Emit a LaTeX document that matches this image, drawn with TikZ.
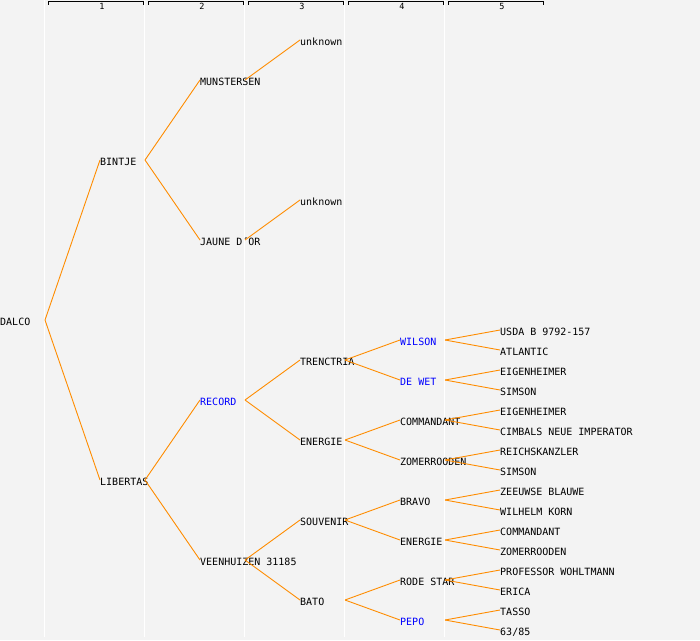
\documentclass[tikz,border=0pt]{standalone}
\usepackage{fontspec}
\usepackage{xcolor}
\newfontfamily\pedfont{DejaVu Sans Mono}
\definecolor{pedorange}{RGB}{255,140,0}
\definecolor{pedblue}{RGB}{0,0,255}
\definecolor{pedback}{RGB}{243,243,243}

\begin{document}
\begin{tikzpicture}[x=1pt,y=-1pt]
    % Define styles
    \tikzstyle{plant} = [anchor=west, inner sep=0pt, text height=11pt, text depth=0pt, font=\pedfont\fontsize{10}{10}\selectfont, text=black]
    \tikzstyle{known} = [plant, text=pedblue]
    \tikzstyle{link} = [draw=pedorange, line width=0.9pt]
    \tikzstyle{gridline} = [draw=white, line width=1.5pt]
    \tikzstyle{bracket} = [draw=black, line width=1pt]
    \tikzstyle{colnum} = [inner sep=0pt, font=\pedfont\fontsize{8.5}{8.5}\selectfont]

    % Background
    \fill [pedback] (0,0) rectangle (700,640);
    \useasboundingbox (0,0) rectangle (700,640);

    % Columns
    \draw [gridline] (44.5,0) -- (44.5,637);
    \draw [gridline] (144.5,0) -- (144.5,637);
    \draw [gridline] (244.5,0) -- (244.5,637);
    \draw [gridline] (344.5,0) -- (344.5,637);
    \draw [gridline] (444.5,0) -- (444.5,637);
    \draw [bracket] (48,4.5) -- (48,1.5) -- (143,1.5) -- (143,4.5);
    \draw [bracket] (148,4.5) -- (148,1.5) -- (243,1.5) -- (243,4.5);
    \draw [bracket] (248,4.5) -- (248,1.5) -- (343,1.5) -- (343,4.5);
    \draw [bracket] (348,4.5) -- (348,1.5) -- (443,1.5) -- (443,4.5);
    \draw [bracket] (448,4.5) -- (448,1.5) -- (543,1.5) -- (543,4.5);
    \node (col1) [colnum] at (102,6.5) {1};
    \node (col2) [colnum] at (202,6.5) {2};
    \node (col3) [colnum] at (302,6.5) {3};
    \node (col4) [colnum] at (402,6.5) {4};
    \node (col5) [colnum] at (502,6.5) {5};

    % Generation 1
    \node (dalco) [plant] at (0,320) {DALCO};

    % Generation 2
    \node (bintje) [plant] at (100,160) {BINTJE};
    \node (libertas) [plant] at (100,480) {LIBERTAS};

    % Generation 3
    \node (munstersen) [plant] at (200,80) {MUNSTERSEN};
    \node (jaune) [plant] at (200,240) {JAUNE D´OR};
    \node (record) [known] at (200,400) {RECORD};
    \node (veenhuizen) [plant] at (200,560) {VEENHUIZEN 31185};

    % Generation 4
    \node (unknownA) [plant] at (300,40) {unknown};
    \node (unknownB) [plant] at (300,200) {unknown};
    \node (trenctria) [plant] at (300,360) {TRENCTRIA};
    \node (energieA) [plant] at (300,440) {ENERGIE};
    \node (souvenir) [plant] at (300,520) {SOUVENIR};
    \node (bato) [plant] at (300,600) {BATO};

    % Generation 5
    \node (wilson) [known] at (400,340) {WILSON};
    \node (dewet) [known] at (400,380) {DE WET};
    \node (commandantA) [plant] at (400,420) {COMMANDANT};
    \node (zomerroodenA) [plant] at (400,460) {ZOMERROODEN};
    \node (bravo) [plant] at (400,500) {BRAVO};
    \node (energieB) [plant] at (400,540) {ENERGIE};
    \node (rodestar) [plant] at (400,580) {RODE STAR};
    \node (pepo) [known] at (400,620) {PEPO};

    % Generation 6
    \node (usda) [plant] at (500,330) {USDA B 9792-157};
    \node (atlantic) [plant] at (500,350) {ATLANTIC};
    \node (eigenheimerA) [plant] at (500,370) {EIGENHEIMER};
    \node (simsonA) [plant] at (500,390) {SIMSON};
    \node (eigenheimerB) [plant] at (500,410) {EIGENHEIMER};
    \node (cimbals) [plant] at (500,430) {CIMBALS NEUE IMPERATOR};
    \node (reichskanzler) [plant] at (500,450) {REICHSKANZLER};
    \node (simsonB) [plant] at (500,470) {SIMSON};
    \node (zeeuwse) [plant] at (500,490) {ZEEUWSE BLAUWE};
    \node (wilhelm) [plant] at (500,510) {WILHELM KORN};
    \node (commandantB) [plant] at (500,530) {COMMANDANT};
    \node (zomerroodenB) [plant] at (500,550) {ZOMERROODEN};
    \node (professor) [plant] at (500,570) {PROFESSOR WOHLTMANN};
    \node (erica) [plant] at (500,590) {ERICA};
    \node (tasso) [plant] at (500,610) {TASSO};
    \node (nr6385) [plant] at (500,630) {63/85};

    % Parents
    \draw [link] ([xshift=45pt]dalco.west) -- (bintje.west);
    \draw [link] ([xshift=45pt]dalco.west) -- (libertas.west);
    \draw [link] ([xshift=45pt]bintje.west) -- (munstersen.west);
    \draw [link] ([xshift=45pt]bintje.west) -- (jaune.west);
    \draw [link] ([xshift=45pt]libertas.west) -- (record.west);
    \draw [link] ([xshift=45pt]libertas.west) -- (veenhuizen.west);
    \draw [link] ([xshift=45pt]munstersen.west) -- (unknownA.west);
    \draw [link] ([xshift=45pt]jaune.west) -- (unknownB.west);
    \draw [link] ([xshift=45pt]record.west) -- (trenctria.west);
    \draw [link] ([xshift=45pt]record.west) -- (energieA.west);
    \draw [link] ([xshift=45pt]veenhuizen.west) -- (souvenir.west);
    \draw [link] ([xshift=45pt]veenhuizen.west) -- (bato.west);
    \draw [link] ([xshift=45pt]trenctria.west) -- (wilson.west);
    \draw [link] ([xshift=45pt]trenctria.west) -- (dewet.west);
    \draw [link] ([xshift=45pt]energieA.west) -- (commandantA.west);
    \draw [link] ([xshift=45pt]energieA.west) -- (zomerroodenA.west);
    \draw [link] ([xshift=45pt]souvenir.west) -- (bravo.west);
    \draw [link] ([xshift=45pt]souvenir.west) -- (energieB.west);
    \draw [link] ([xshift=45pt]bato.west) -- (rodestar.west);
    \draw [link] ([xshift=45pt]bato.west) -- (pepo.west);
    \draw [link] ([xshift=45pt]wilson.west) -- (usda.west);
    \draw [link] ([xshift=45pt]wilson.west) -- (atlantic.west);
    \draw [link] ([xshift=45pt]dewet.west) -- (eigenheimerA.west);
    \draw [link] ([xshift=45pt]dewet.west) -- (simsonA.west);
    \draw [link] ([xshift=45pt]commandantA.west) -- (eigenheimerB.west);
    \draw [link] ([xshift=45pt]commandantA.west) -- (cimbals.west);
    \draw [link] ([xshift=45pt]zomerroodenA.west) -- (reichskanzler.west);
    \draw [link] ([xshift=45pt]zomerroodenA.west) -- (simsonB.west);
    \draw [link] ([xshift=45pt]bravo.west) -- (zeeuwse.west);
    \draw [link] ([xshift=45pt]bravo.west) -- (wilhelm.west);
    \draw [link] ([xshift=45pt]energieB.west) -- (commandantB.west);
    \draw [link] ([xshift=45pt]energieB.west) -- (zomerroodenB.west);
    \draw [link] ([xshift=45pt]rodestar.west) -- (professor.west);
    \draw [link] ([xshift=45pt]rodestar.west) -- (erica.west);
    \draw [link] ([xshift=45pt]pepo.west) -- (tasso.west);
    \draw [link] ([xshift=45pt]pepo.west) -- (nr6385.west);
\end{tikzpicture}
\end{document}
